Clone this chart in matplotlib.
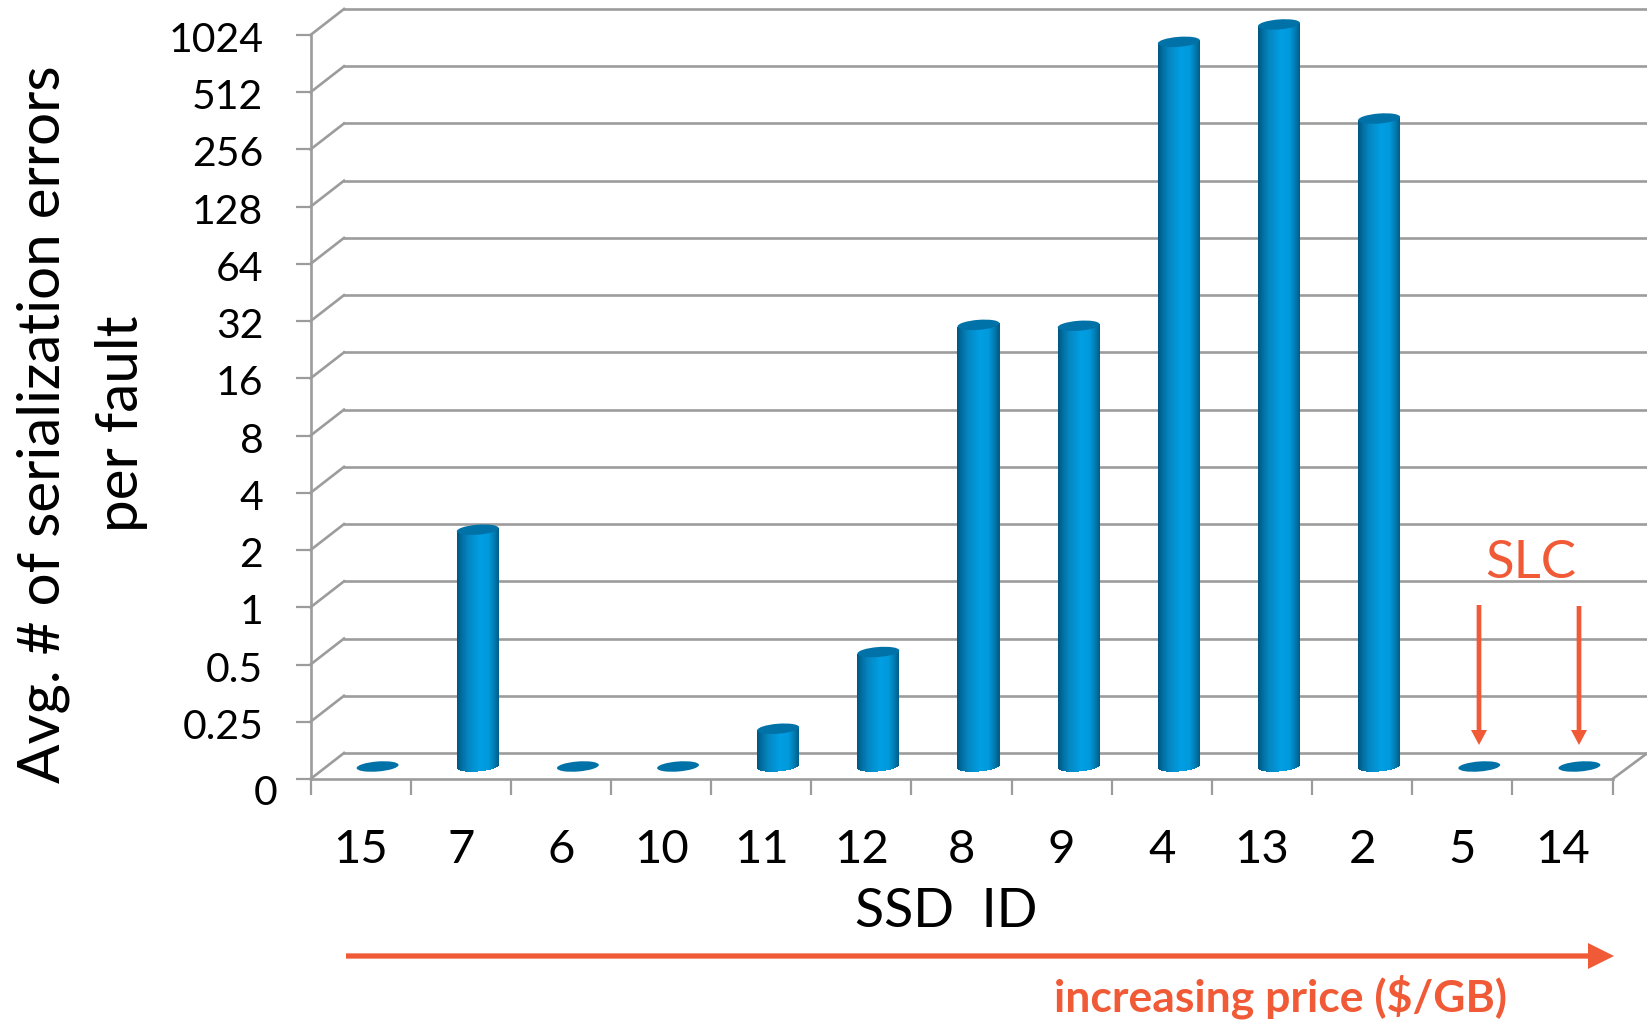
import matplotlib
matplotlib.use("Agg")
import numpy as np
import matplotlib.pyplot as plt
from matplotlib.patches import Circle
from matplotlib.ticker import NullLocator
from matplotlib.transforms import Affine2D

plt.rcParams["font.family"] = ["Lato", "DejaVu Sans"]

ssd_ids = ["15", "7", "6", "10", "11", "12", "8", "9", "4", "13", "2", "5", "14"]
errors = [0, 2.2, 0, 0, 0.165, 0.5, 26.3, 26, 810, 1000, 320, 0, 0]
y_ticks = [0, 0.25, 0.5, 1, 2, 4, 8, 16, 32, 64, 128, 256, 512, 1024]
y_labels = ["0", "0.25", "0.5", "1", "2", "4", "8", "16", "32", "64", "128", "256", "512", "1024"]

W, H = 1647, 1021
GRID = "#9c9c9c"
RED = "#f15a36"
CAP = "#0072a8"


def forward(v):
    v = np.asarray(v, dtype=float)
    return np.where(v >= 0.25, np.log2(np.maximum(v, 0.25)) + 3, v * 4)


def inverse(l):
    l = np.asarray(l, dtype=float)
    return np.where(l >= 1, 2.0 ** (l - 3), l / 4)


fig = plt.figure(figsize=(W / 100, H / 100), dpi=100)
ax = fig.add_axes([310.5 / W, 1 - 779 / H, 1302 / W, 744 / H])
ax.set_yscale("function", functions=(forward, inverse))
ax.set_xlim(-0.5, 12.5)
ax.set_ylim(0, 1024)
ax.patch.set_alpha(0)
step = 744 / 13

for side in ["top", "right"]:
    ax.spines[side].set_visible(False)
for side in ["left", "bottom"]:
    ax.spines[side].set_color(GRID)
    ax.spines[side].set_linewidth(1.9)

ax.set_yticks(y_ticks, y_labels)
ax.yaxis.set_minor_locator(NullLocator())
ax.tick_params(axis="y", length=11, width=1.6, color=GRID, labelsize=29.5, pad=23)
ax.set_xticks(np.arange(-0.5, 13), [""] * 14)
ax.tick_params(axis="x", which="major", length=11.5, width=1.6, color=GRID)
ax.set_xticks(np.arange(13), ssd_ids, minor=True)
ax.tick_params(axis="x", which="minor", length=0, labelsize=34, pad=36)

# labels sit a little under their ticks, the 0 is pushed further out
for lab, v in zip(ax.get_yticklabels(), y_ticks):
    dx, dy = (14, -11) if v == 0 else (0, -2)
    lab.set_transform(lab.get_transform() + Affine2D().translate(dx, dy))

# back wall, side wall and floor of the fake 3d box
back_tr = ax.transData + Affine2D().translate(33.5, 26)
for v in y_ticks:
    ax.plot([-0.5, 13], [v, v], color=GRID, lw=1.9, transform=back_tr, clip_on=False, zorder=1)
    x0, y0 = ax.transData.transform((-0.5, v))
    ax.plot([x0, x0 + 33.5], [y0, y0 + 26], color=GRID, lw=1.9, transform=None, clip_on=False, zorder=1)
xr, yr = ax.transData.transform((12.5, 0))
ax.plot([xr, xr + 35], [yr, yr + 26], color=GRID, lw=1.9, transform=None, clip_on=False, zorder=1)

# cylinders: thin strips for the shading plus an elliptical cap
mid = ax.transData + Affine2D().translate(17, 12.5)
half = 0.21
rx, ry, tilt = 21, 5, 1.7
shade_u = [-1, -0.8, -0.45, 0.1, 0.5, 0.8, 1]
shade_c = np.array([(0, 0.33, 0.49), (0, 0.42, 0.62), (0.02, 0.53, 0.76), (0, 0.62, 0.89),
                    (0, 0.6, 0.86), (0, 0.47, 0.68), (0, 0.36, 0.52)])
n = 42
edges = np.linspace(-1, 1, n + 1)
for i, v in enumerate(errors):
    if v > 0:
        for u in (edges[:-1] + edges[1:]) / 2:
            col = [np.interp(u, shade_u, shade_c[:, k]) for k in range(3)]
            arc = ry * np.sqrt(1 - u ** 2) - tilt * u
            low = inverse(-arc / step)
            high = inverse(forward(v) + tilt * u / step)
            ax.bar(i + half * u, high - low, bottom=low, width=2 * half / n * 1.15,
                   color=col, linewidth=0, transform=mid, clip_on=False, zorder=3)
    px, py = mid.transform((i, v))
    ax.add_patch(Circle((0, 0), 1, facecolor=CAP, edgecolor="none", clip_on=False, zorder=4,
                        transform=Affine2D().scale(rx, ry).rotate_deg(4.5).translate(px, py)))
ax.set_xlim(-0.5, 12.5)
ax.set_ylim(0, 1024)

# annotations in picture pixels
top = fig.add_axes([0, 0, 1, 1], zorder=5)
top.set_xlim(0, W)
top.set_ylim(H, 0)
top.axis("off")

top.text(43, 424, "Avg. # of serialization errors", rotation=90, ha="center", va="center", fontsize=42)
top.text(122, 424, "per fault", rotation=90, ha="center", va="center", fontsize=42)
top.text(946, 911, "SSD  ID", ha="center", va="center", fontsize=38.7)
top.text(1531, 563, "SLC", ha="center", va="center", fontsize=38, color=RED)
top.text(1281, 997, "increasing price ($/GB)", ha="center", va="center", fontsize=32,
         color=RED, fontweight="bold")

for x0, y0, y1 in [(1479, 605, 745), (1579, 606, 745)]:
    top.arrow(x0, y0, 0, y1 - y0, width=4.7, head_width=16, head_length=15,
              length_includes_head=True, color=RED, linewidth=0)
top.arrow(346, 956, 1614 - 346, 0, width=5.3, head_width=26, head_length=26,
          length_includes_head=True, color=RED, linewidth=0)

fig.savefig("out.png", dpi=100)
